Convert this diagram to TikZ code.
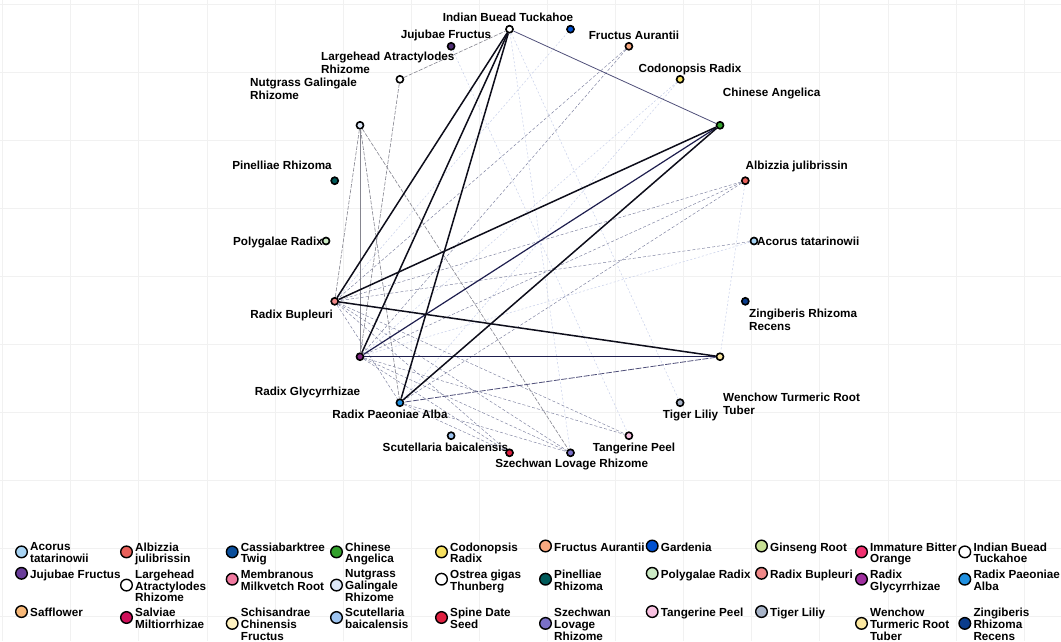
\documentclass[tikz,border=0pt]{standalone}
\usepackage{fontspec}
\setmainfont{Liberation Sans}
\definecolor{gridc}{HTML}{F1F1F1}
\definecolor{edgeblack}{HTML}{0D0D1A}
\definecolor{navy}{HTML}{1E1E4E}
\definecolor{midc}{HTML}{50507A}
\definecolor{greyc}{HTML}{85858F}
\definecolor{faintc}{HTML}{7A7E9E}
\definecolor{vfaintc}{HTML}{C8D0EA}
% node colours
\definecolor{cAcorus}{HTML}{A8D4F4}
\definecolor{cAlbizzia}{HTML}{E8605A}
\definecolor{cCassia}{HTML}{0B4F9C}
\definecolor{cAngelica}{HTML}{33A02C}
\definecolor{cCodonopsis}{HTML}{F6E060}
\definecolor{cAurantii}{HTML}{F8A880}
\definecolor{cGardenia}{HTML}{0050D0}
\definecolor{cGinseng}{HTML}{C8E094}
\definecolor{cImmature}{HTML}{F03070}
\definecolor{cIndian}{HTML}{FFFFFF}
\definecolor{cJujubae}{HTML}{6A3D9A}
\definecolor{cLargehead}{HTML}{FFFFFF}
\definecolor{cMembranous}{HTML}{F07AA0}
\definecolor{cNutgrass}{HTML}{DDE8F8}
\definecolor{cOstrea}{HTML}{FFFFFF}
\definecolor{cPinelliae}{HTML}{005A5A}
\definecolor{cPolygalae}{HTML}{CCEBC5}
\definecolor{cBupleuri}{HTML}{F08888}
\definecolor{cGlycyrrhizae}{HTML}{A030A0}
\definecolor{cPaeoniae}{HTML}{2090E0}
\definecolor{cSafflower}{HTML}{F8B878}
\definecolor{cSalviae}{HTML}{D0105A}
\definecolor{cSchisandrae}{HTML}{FFF2C0}
\definecolor{cScutellaria}{HTML}{9EC4F0}
\definecolor{cSpine}{HTML}{E02040}
\definecolor{cSzechwan}{HTML}{7A70C8}
\definecolor{cTangerine}{HTML}{F8C0E0}
\definecolor{cTiger}{HTML}{A8B4C8}
\definecolor{cWenchow}{HTML}{FCE8A0}
\definecolor{cZingiberis}{HTML}{0A3C8C}
\newcommand{\lgitem}[6]{%
  \node[legdot,fill=#5] (k-#1) at ({#2-8.5},{#3+(#4-1)*5.9-0.7}) {};
  \node[legtext] (t-#1) at (#2,{#3-4.3}) {#6};
}
\begin{document}
\begin{tikzpicture}[x=1pt,y=-1pt,
  hn/.style={circle,draw=black,line width=1.1pt,minimum size=7.6pt,inner sep=0pt},
  legdot/.style={circle,draw=black,line width=1.4pt,minimum size=11.6pt,inner sep=0pt},
  lab/.style={font=\fontsize{11.7}{13}\selectfont\bfseries,inner sep=0pt,text=black},
  labml/.style={lab,align=left,anchor=north west},
  legtext/.style={font=\fontsize{11.7}{11.8}\selectfont\bfseries,inner sep=0pt,align=left,anchor=north west},
  heavy/.style={line width=1.5pt,draw=edgeblack},
  medium/.style={line width=1.2pt,draw=navy},
  thinn/.style={line width=0.8pt,draw=midc},
  greyl/.style={line width=0.6pt,draw=greyc},
  greyd/.style={line width=0.6pt,draw=greyc,dash pattern=on 4pt off 1.5pt},
  faintd/.style={line width=0.45pt,draw=faintc,dash pattern=on 3pt off 2pt},
  vfaint/.style={line width=0.5pt,draw=vfaintc,dash pattern=on 2pt off 2pt}
]
\useasboundingbox (0,0) rectangle (1061,641);
\fill[white] (0,0) rectangle (1061,641);
% faint background grid
\foreach \i in {0,...,15} \draw[gridc,line width=0.9pt] ({2.7+68.1*\i},0) -- ({2.7+68.1*\i},641);
\foreach \j in {0,...,9} \draw[gridc,line width=0.9pt] (0,{4.5+68*\j}) -- (1061,{4.5+68*\j});

% network nodes (circular layout)
\node[hn,fill=cAcorus] (acorus) at (754,241) {};
\node[hn,fill=cAlbizzia] (albizzia) at (745.3,180.7) {};
\node[hn,fill=cAngelica] (angelica) at (720.0,125.3) {};
\node[hn,fill=cCodonopsis] (codonopsis) at (680.1,79.3) {};
\node[hn,fill=cAurantii] (aurantii) at (628.9,46.3) {};
\node[hn,fill=cGardenia] (gardenia) at (570.5,29.2) {};
\node[hn,fill=cIndian] (indian) at (509.5,29.2) {};
\node[hn,fill=cJujubae!75!black] (jujubae) at (451.1,46.3) {};
\node[hn,fill=cLargehead] (largehead) at (399.9,79.3) {};
\node[hn,fill=cNutgrass] (nutgrass) at (360.0,125.3) {};
\node[hn,fill=cPinelliae] (pinelliae) at (334.7,180.7) {};
\node[hn,fill=cPolygalae] (polygalae) at (326,241) {};
\node[hn,fill=cBupleuri] (bupleuri) at (334.7,301.3) {};
\node[hn,fill=cGlycyrrhizae!80!black] (glycyrrhizae) at (360.0,356.7) {};
\node[hn,fill=cPaeoniae] (paeoniae) at (399.9,402.7) {};
\node[hn,fill=cScutellaria] (scutellaria) at (451.1,435.7) {};
\node[hn,fill=cSpine] (spine) at (509.5,452.8) {};
\node[hn,fill=cSzechwan] (szechwan) at (570.5,452.8) {};
\node[hn,fill=cTangerine] (tangerine) at (628.9,435.7) {};
\node[hn,fill=cTiger] (tiger) at (680.1,402.7) {};
\node[hn,fill=cWenchow] (wenchow) at (720.0,356.7) {};
\node[hn,fill=cZingiberis] (zingiberis) at (745.3,301.3) {};

% edges: very faint
\draw[vfaint] (codonopsis) -- (glycyrrhizae);
\draw[vfaint] (codonopsis) -- (paeoniae);
\draw[vfaint] (gardenia) -- (bupleuri);
\draw[vfaint] (indian) -- (tiger);
\draw[vfaint] (indian) -- (szechwan);
\draw[vfaint] (albizzia) -- (wenchow);
\draw[vfaint] (acorus) -- (glycyrrhizae);
\draw[vfaint] (jujubae) -- (tangerine);
% edges: faint dashed
\draw[faintd] (aurantii) -- (bupleuri);
\draw[faintd] (aurantii) -- (glycyrrhizae);
\draw[faintd] (albizzia) -- (bupleuri);
\draw[faintd] (albizzia) -- (glycyrrhizae);
\draw[faintd] (albizzia) -- (paeoniae);
\draw[faintd] (acorus) -- (bupleuri);
\draw[faintd] (bupleuri) -- (szechwan);
\draw[faintd] (bupleuri) -- (tangerine);
\draw[faintd] (bupleuri) -- (spine);
\draw[faintd] (glycyrrhizae) -- (szechwan);
\draw[faintd] (glycyrrhizae) -- (tangerine);
\draw[faintd] (glycyrrhizae) -- (spine);
\draw[faintd] (paeoniae) -- (szechwan);
\draw[faintd] (paeoniae) -- (spine);
\draw[faintd] (bupleuri) -- (paeoniae);
% edges: grey
\draw[greyl] (nutgrass) -- (glycyrrhizae);
\draw[greyd] (nutgrass) -- (bupleuri);
\draw[greyd] (nutgrass) -- (paeoniae);
\draw[greyd] (nutgrass) -- (szechwan);
\draw[greyd] (largehead) -- (glycyrrhizae);
\draw[greyd] (largehead) -- (indian);
% edges: navy / thin
\draw[thinn] (indian) -- (angelica);
\draw[thinn,dash pattern=on 6pt off 1.5pt] (wenchow) -- (paeoniae);
\draw[medium] (angelica) -- (glycyrrhizae);
\draw[medium] (wenchow) -- (glycyrrhizae);
% edges: heavy
\draw[heavy] (indian) -- (bupleuri);
\draw[heavy] (indian) -- (glycyrrhizae);
\draw[heavy] (indian) -- (paeoniae);
\draw[heavy] (angelica) -- (bupleuri);
\draw[heavy] (angelica) -- (paeoniae);
\draw[heavy] (wenchow) -- (bupleuri);

% redraw nodes on top of edges
\foreach \n/\c in {acorus/cAcorus,albizzia/cAlbizzia,angelica/cAngelica,codonopsis/cCodonopsis,aurantii/cAurantii,gardenia/cGardenia,indian/cIndian,largehead/cLargehead,nutgrass/cNutgrass,pinelliae/cPinelliae,polygalae/cPolygalae,bupleuri/cBupleuri,paeoniae/cPaeoniae,scutellaria/cScutellaria,spine/cSpine,szechwan/cSzechwan,tangerine/cTangerine,tiger/cTiger,wenchow/cWenchow,zingiberis/cZingiberis}
  \fill[\c,draw=black,line width=1.1pt] (\n.center) circle (3.25pt);
\fill[cJujubae!75!black,draw=black,line width=1.1pt] (jujubae.center) circle (3.25pt);
\fill[cGlycyrrhizae!80!black,draw=black,line width=1.1pt] (glycyrrhizae.center) circle (3.25pt);

% network labels
\node[lab,anchor=base] (l-indian) at (508,21.2) {Indian Buead Tuckahoe};
\node[lab,anchor=base] (l-jujubae) at (446,38.2) {Jujubae Fructus};
\node[labml] (l-largehead) at (321,51.7) {Largehead Atractylodes\\Rhizome};
\node[labml] (l-nutgrass) at (250,77.7) {Nutgrass Galingale\\Rhizome};
\node[lab,anchor=base] (l-pinelliae) at (282,169.2) {Pinelliae Rhizoma};
\node[lab,anchor=base east] (l-polygalae) at (323,245.2) {Polygalae Radix};
\node[lab,anchor=base] (l-bupleuri) at (291.7,318.2) {Radix Bupleuri};
\node[lab,anchor=base] (l-glycyrrhizae) at (307.5,395.2) {Radix Glycyrrhizae};
\node[lab,anchor=base] (l-paeoniae) at (390,418.2) {Radix Paeoniae Alba};
\node[lab,anchor=base] (l-scutellaria) at (445.5,451) {Scutellaria baicalensis};
\node[lab,anchor=base] (l-szechwan) at (571.7,467.2) {Szechwan Lovage Rhizome};
\node[lab,anchor=base] (l-tangerine) at (634,451.5) {Tangerine Peel};
\node[lab,anchor=base] (l-tiger) at (690.5,418.5) {Tiger Liliy};
\node[labml] (l-wenchow) at (723,393) {Wenchow Turmeric Root\\Tuber};
\node[labml] (l-zingiberis) at (749,308.4) {Zingiberis Rhizoma\\Recens};
\node[lab,anchor=base west] (l-acorus) at (757,245.2) {Acorus tatarinowii};
\node[lab,anchor=base] (l-albizzia) at (796.7,169.2) {Albizzia julibrissin};
\node[lab,anchor=base] (l-angelica) at (771.7,96.2) {Chinese Angelica};
\node[lab,anchor=base] (l-codonopsis) at (690,72.5) {Codonopsis Radix};
\node[lab,anchor=base] (l-aurantii) at (634,39.2) {Fructus Aurantii};

% legend, row 1
\lgitem{acorus}{30}{546.7}{2}{cAcorus}{Acorus\\tatarinowii}
\lgitem{albizzia}{135}{546.7}{2}{cAlbizzia}{Albizzia\\julibrissin}
\lgitem{cassia}{240.7}{546.7}{2}{cCassia}{Cassiabarktree\\Twig}
\lgitem{angelica}{345}{546.7}{2}{cAngelica}{Chinese\\Angelica}
\lgitem{codonopsis}{450}{546.7}{2}{cCodonopsis}{Codonopsis\\Radix}
\lgitem{aurantii}{554}{546.7}{1}{cAurantii}{Fructus Aurantii}
\lgitem{gardenia}{660.7}{546.7}{1}{cGardenia}{Gardenia}
\lgitem{ginseng}{770}{546.7}{1}{cGinseng}{Ginseng Root}
\lgitem{immature}{870}{546.7}{2}{cImmature}{Immature Bitter\\Orange}
\lgitem{indian}{973.3}{546.7}{2}{cIndian}{Indian Buead\\Tuckahoe}
% legend, row 2
\lgitem{jujubae}{30}{574}{1}{cJujubae}{Jujubae Fructus}
\lgitem{largehead}{135}{574}{3}{cLargehead}{Largehead\\Atractylodes\\Rhizome}
\lgitem{membranous}{240.7}{574}{2}{cMembranous}{Membranous\\Milkvetch Root}
\lgitem{nutgrass}{345}{574}{3}{cNutgrass}{Nutgrass\\Galingale\\Rhizome}
\lgitem{ostrea}{450}{574}{2}{cOstrea}{Ostrea gigas\\Thunberg}
\lgitem{pinelliae}{554}{574}{2}{cPinelliae}{Pinelliae\\Rhizoma}
\lgitem{polygalae}{660.7}{574}{1}{cPolygalae}{Polygalae Radix}
\lgitem{bupleuri}{770}{574}{1}{cBupleuri}{Radix Bupleuri}
\lgitem{glycyrrhizae}{870}{574}{2}{cGlycyrrhizae}{Radix\\Glycyrrhizae}
\lgitem{paeoniae}{973.3}{574}{2}{cPaeoniae}{Radix Paeoniae\\Alba}
% legend, row 3
\lgitem{safflower}{30}{612.3}{1}{cSafflower}{Safflower}
\lgitem{salviae}{135}{612.3}{2}{cSalviae}{Salviae\\Miltiorrhizae}
\lgitem{schisandrae}{240.7}{612.3}{3}{cSchisandrae}{Schisandrae\\Chinensis\\Fructus}
\lgitem{scutellaria}{345}{612.3}{2}{cScutellaria}{Scutellaria\\baicalensis}
\lgitem{spine}{450}{612.3}{2}{cSpine}{Spine Date\\Seed}
\lgitem{szechwan}{554}{612.3}{3}{cSzechwan}{Szechwan\\Lovage\\Rhizome}
\lgitem{tangerine}{660.7}{612.3}{1}{cTangerine}{Tangerine Peel}
\lgitem{tiger}{770}{612.3}{1}{cTiger}{Tiger Liliy}
\lgitem{wenchow}{870}{612.3}{3}{cWenchow}{Wenchow\\Turmeric Root\\Tuber}
\lgitem{zingiberis}{973.3}{612.3}{3}{cZingiberis}{Zingiberis\\Rhizoma\\Recens}
\end{tikzpicture}
\end{document}
